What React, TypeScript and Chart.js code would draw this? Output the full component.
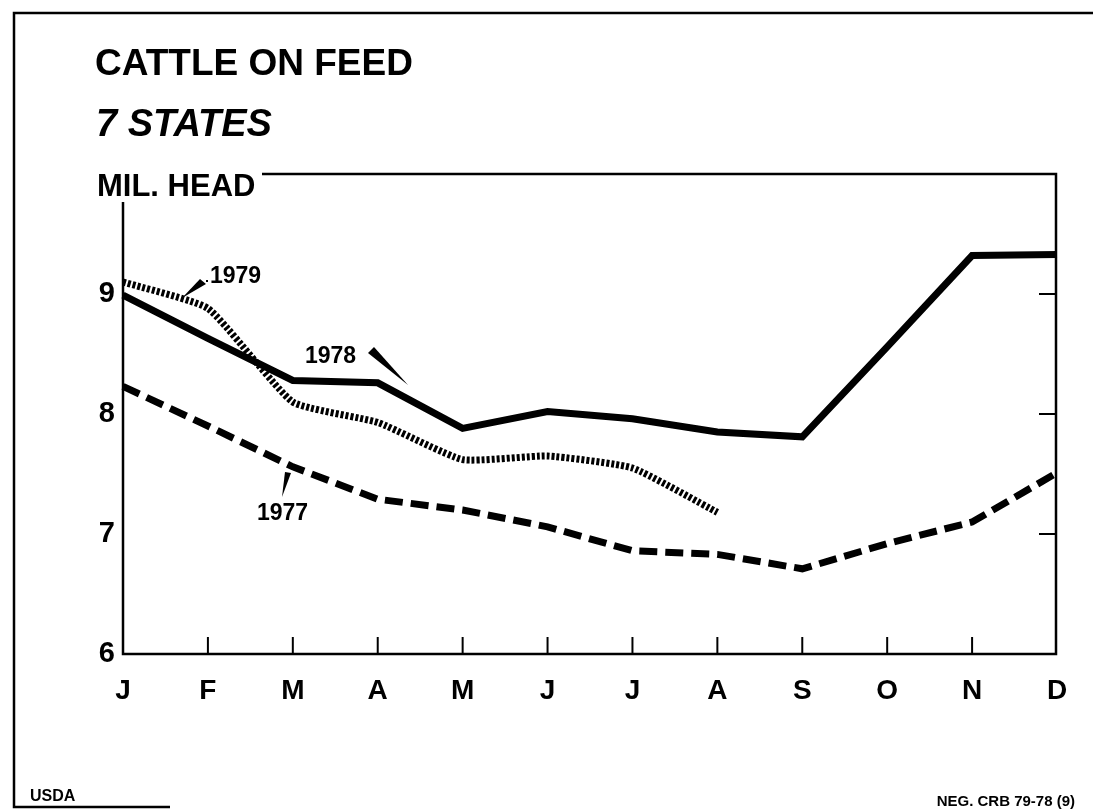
import React, { useEffect, useRef } from "react";
import { Chart, registerables } from "chart.js";

Chart.register(...registerables);

const months = ["J", "F", "M", "A", "M", "J", "J", "A", "S", "O", "N", "D"];
const cattle1977 = [8.23, 7.9, 7.56, 7.29, 7.2, 7.06, 6.86, 6.83, 6.71, 6.92, 7.1, 7.51];
const cattle1978 = [8.99, 8.63, 8.28, 8.26, 7.88, 8.02, 7.96, 7.85, 7.81, 8.56, 9.32, 9.33];
const cattle1979 = [9.1, 8.88, 8.1, 7.93, 7.62, 7.65, 7.55, 7.18, null, null, null, null];
const yTickValues = [6, 7, 8, 9];

const W = 1093;
const H = 809;
const FONT = "'Liberation Sans', Arial, Helvetica, sans-serif";

const decorPlugin = {
  id: "decor",
  afterDraw(chart: any) {
    const { ctx, scales, chartArea } = chart;
    const xs = scales.x;
    const ys = scales.y;
    const L = chartArea.left;
    const R = chartArea.right - 1;
    const T = chartArea.top;
    const B = chartArea.bottom;
    ctx.save();
    ctx.strokeStyle = "#000";
    ctx.fillStyle = "#000";
    ctx.lineCap = "butt";

    // outer frame
    ctx.lineWidth = 2.5;
    ctx.beginPath();
    ctx.moveTo(W, 13);
    ctx.lineTo(14, 13);
    ctx.lineTo(14, 807);
    ctx.lineTo(170, 807);
    ctx.stroke();

    // plot frame
    ctx.lineWidth = 2.5;
    ctx.beginPath();
    ctx.moveTo(L, 202);
    ctx.lineTo(L, B);
    ctx.lineTo(R, B);
    ctx.lineTo(R, T);
    ctx.lineTo(262, T);
    ctx.stroke();

    // x ticks (inward)
    ctx.lineWidth = 2;
    for (let i = 1; i < months.length - 1; i++) {
      const px = xs.getPixelForValue(i);
      ctx.beginPath();
      ctx.moveTo(px, B);
      ctx.lineTo(px, B - 17);
      ctx.stroke();
    }
    // right ticks (inward)
    for (const v of yTickValues) {
      if (v === 6) continue;
      const py = ys.getPixelForValue(v);
      ctx.beginPath();
      ctx.moveTo(R, py);
      ctx.lineTo(R - 17, py);
      ctx.stroke();
    }

    // titles
    ctx.textBaseline = "alphabetic";
    ctx.textAlign = "left";
    ctx.font = `bold 37px ${FONT}`;
    ctx.fillText("CATTLE ON FEED", 95, 75);
    ctx.font = `italic bold 38px ${FONT}`;
    ctx.fillText("7 STATES", 96, 136);
    ctx.font = `bold 31px ${FONT}`;
    ctx.fillText("MIL. HEAD", 97, 196);

    // series labels
    ctx.font = `bold 23px ${FONT}`;
    ctx.fillText("1979", 210, 283);
    ctx.fillText("1978", 305, 363);
    ctx.fillText("1977", 257, 520);

    // pointers
    ctx.beginPath();
    ctx.moveTo(182, 298);
    ctx.lineTo(200, 279);
    ctx.lineTo(206, 284);
    ctx.closePath();
    ctx.fill();
    ctx.fillRect(206, 280, 2, 2);

    ctx.beginPath();
    ctx.moveTo(368, 353);
    ctx.lineTo(374, 347);
    ctx.lineTo(408, 385);
    ctx.closePath();
    ctx.fill();

    ctx.beginPath();
    ctx.moveTo(282, 497);
    ctx.lineTo(285, 472);
    ctx.lineTo(291, 473);
    ctx.closePath();
    ctx.fill();

    // footer
    ctx.font = `bold 16px ${FONT}`;
    ctx.fillText("USDA", 30, 801);
    ctx.textAlign = "right";
    ctx.font = `bold 15px ${FONT}`;
    ctx.fillText("NEG. CRB 79-78 (9)", 1075, 806);
    ctx.restore();
  },
};

export default function App() {
  const canvasRef = useRef<HTMLCanvasElement | null>(null);

  useEffect(() => {
    const canvas = canvasRef.current;
    if (!canvas) return;
    const chart = new Chart(canvas, {
      type: "line",
      data: {
        labels: months,
        datasets: [
          {
            label: "1977",
            data: cattle1977,
            borderColor: "#000",
            borderWidth: 7,
            borderDash: [18, 8],
            pointRadius: 0,
            tension: 0,
            fill: false,
          },
          {
            label: "1978",
            data: cattle1978,
            borderColor: "#000",
            borderWidth: 7,
            pointRadius: 0,
            tension: 0,
            fill: false,
          },
          {
            label: "1979",
            data: cattle1979,
            borderColor: "#000",
            borderWidth: 7,
            borderDash: [3, 2],
            pointRadius: 0,
            tension: 0.15,
            spanGaps: false,
            fill: false,
          },
        ],
      },
      options: {
        responsive: false,
        devicePixelRatio: 1,
        animation: false,
        events: [],
        layout: { padding: { top: 174, right: 36, left: 0, bottom: 0 } },
        plugins: {
          legend: { display: false },
          title: { display: false },
          tooltip: { enabled: false },
        },
        scales: {
          x: {
            type: "category",
            offset: false,
            grid: { display: false, drawTicks: false },
            border: { display: false },
            ticks: {
              color: "#000",
              font: { family: FONT, size: 28, weight: "bold" },
              padding: 20,
              maxRotation: 0,
              autoSkip: false,
            },
            afterFit: (scale: any) => {
              scale.height = 155;
            },
          },
          y: {
            min: 6,
            max: 10,
            grid: { display: false, drawTicks: false },
            border: { display: false },
            afterBuildTicks: (scale: any) => {
              scale.ticks = yTickValues.map((v) => ({ value: v }));
            },
            ticks: {
              color: "#000",
              font: { family: FONT, size: 29, weight: "bold" },
              padding: 8,
              callback: (v: any) => String(v),
            },
            afterFit: (scale: any) => {
              scale.width = 123;
            },
          },
        },
      },
      plugins: [decorPlugin],
    });
    return () => chart.destroy();
  }, []);

  return (
    <div style={{ position: "absolute", left: 0, top: 0, width: W, height: H, background: "#fff" }}>
      <canvas ref={canvasRef} width={W} height={H} style={{ display: "block" }} />
    </div>
  );
}
